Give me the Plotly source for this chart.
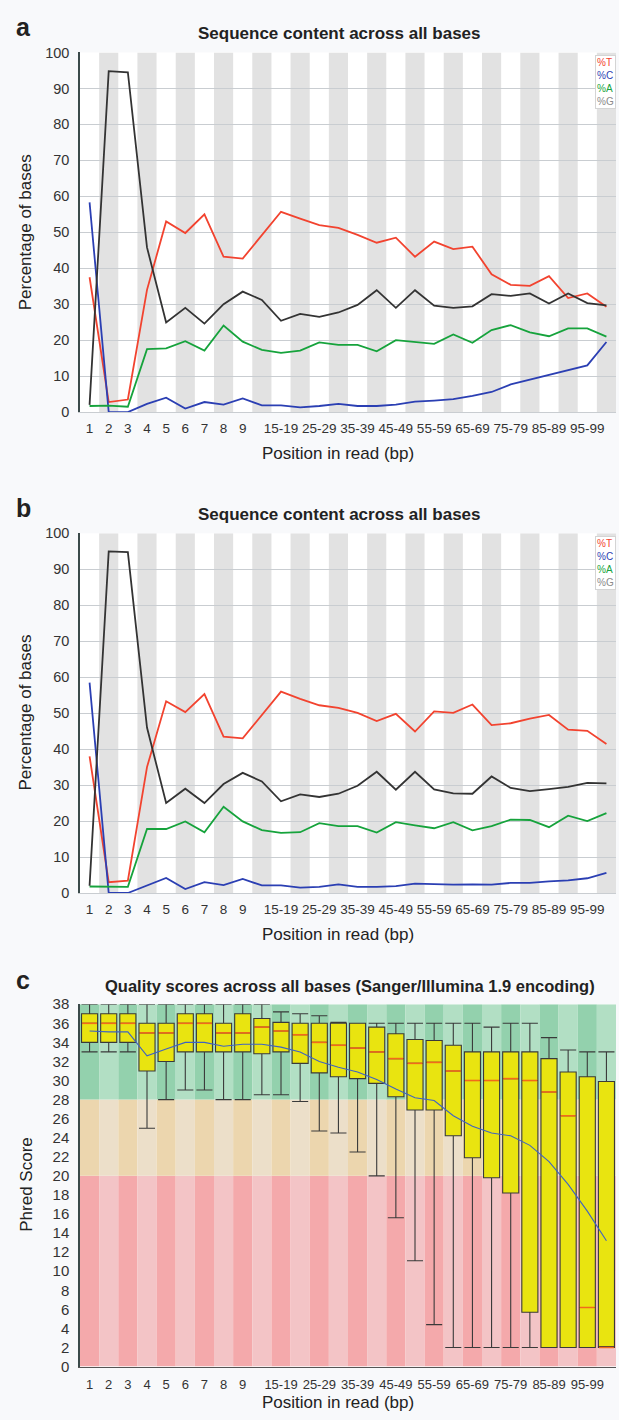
import plotly.graph_objects as go

W, H = 619, 1420

# ---------------- data ----------------
categories = ["1", "2", "3", "4", "5", "6", "7", "8", "9",
              "10-14", "15-19", "20-24", "25-29", "30-34", "35-39", "40-44",
              "45-49", "50-54", "55-59", "60-64", "65-69", "70-74", "75-79",
              "80-84", "85-89", "90-94", "95-99", "100"]
shown_labels = ["1", "2", "3", "4", "5", "6", "7", "8", "9", "15-19", "25-29",
                "35-39", "45-49", "55-59", "65-69", "75-79", "85-89", "95-99"]

# panel a: sequence content
a_T = [37.5, 2.8, 3.5, 34.0, 53.0, 49.8, 55.0, 43.2, 42.7, 49.2, 55.7, 53.8, 52.0, 51.2,
       49.3, 47.1, 48.5, 43.2, 47.4, 45.3, 46.0, 38.3, 35.4, 35.1, 37.8, 31.7, 33.0, 29.3]
a_C = [58.3, 0.0, 0.0, 2.3, 4.0, 1.0, 2.8, 2.1, 3.8, 1.9, 1.9, 1.3, 1.7, 2.3,
       1.7, 1.7, 2.1, 2.9, 3.2, 3.6, 4.5, 5.6, 7.7, 9.0, 10.5, 11.6, 13.0, 19.5]
a_A = [1.7, 1.8, 1.5, 17.5, 17.7, 19.7, 17.1, 24.1, 19.6, 17.3, 16.5, 17.1, 19.4, 18.7,
       18.7, 16.9, 20.0, 19.4, 19.0, 21.6, 19.3, 22.8, 24.2, 22.2, 21.1, 23.3, 23.3, 21.0]
a_G = [2.0, 94.8, 94.5, 45.8, 24.9, 29.0, 24.6, 30.0, 33.5, 31.2, 25.4, 27.3, 26.5, 27.7,
       29.8, 33.9, 29.0, 33.9, 29.6, 29.0, 29.4, 32.8, 32.3, 33.0, 30.2, 33.0, 30.3, 29.7]

# panel b: sequence content
b_T = [38.0, 3.0, 3.4, 35.0, 53.3, 50.3, 55.3, 43.5, 43.0, 49.5, 56.0, 54.0, 52.2, 51.5,
       50.1, 47.8, 49.8, 44.9, 50.5, 50.1, 52.4, 46.7, 47.2, 48.5, 49.5, 45.4, 45.1, 41.4]
b_C = [58.5, 0.0, 0.0, 2.2, 4.2, 1.1, 3.0, 2.2, 3.9, 2.1, 2.1, 1.5, 1.7, 2.4,
       1.7, 1.7, 1.9, 2.6, 2.4, 2.3, 2.4, 2.3, 2.8, 2.8, 3.2, 3.5, 4.1, 5.6]
b_A = [1.8, 1.7, 1.7, 17.8, 17.8, 19.9, 16.9, 24.0, 19.9, 17.5, 16.7, 16.9, 19.4, 18.6,
       18.6, 16.8, 19.7, 18.8, 18.0, 19.7, 17.4, 18.6, 20.4, 20.3, 18.3, 21.5, 20.0, 22.2]
b_G = [2.0, 95.0, 94.8, 46.0, 25.0, 29.0, 25.0, 30.3, 33.4, 31.0, 25.5, 27.4, 26.7, 27.6,
       29.8, 33.7, 28.7, 33.7, 28.8, 27.7, 27.6, 32.4, 29.2, 28.3, 28.9, 29.5, 30.6, 30.5]

# panel c: quality score boxes
q_low = [33, 33, 33, 25, 28, 29, 29, 28, 28, 28.5, 28.5, 27.8, 24.7, 24.5,
         22.5, 20.0, 15.6, 11.1, 4.4, 2, 2, 2, 2, 2, 2, 2, 2, 2]
q_q1 = [34, 34, 34, 31, 32, 33, 33, 33, 33, 32.8, 33.0, 31.8, 30.8, 30.4,
        30.2, 29.7, 28.3, 26.9, 26.9, 24.2, 21.9, 19.8, 18.2, 5.7, 2, 2, 2, 2]
q_med = [36, 36, 36, 35, 35, 36, 36, 35, 35, 35.6, 35.2, 34.8, 34.0, 33.7,
         33.4, 33.0, 32.3, 31.8, 31.9, 31.0, 30.0, 30.0, 30.2, 30.0, 28.8, 26.3, 6.2, 2.0]
q_q3 = [37, 37, 37, 36, 36, 37, 37, 36, 37, 36.5, 36.1, 36.0, 36.0, 36.0,
        36.0, 35.6, 34.9, 34.3, 34.2, 33.7, 33.0, 33.0, 33.0, 33.0, 32.3, 30.9, 30.4, 29.9]
q_high = [38, 38, 38, 38, 38, 38, 38, 38, 38, 38, 37.2, 37.0, 36.8, 36.1,
          36.0, 36.0, 36.0, 36.0, 36.0, 36.0, 36.0, 35.6, 36.0, 36.0, 34.5, 33.2, 33.0, 33.0]
q_mean = [35.2, 35.1, 35.1, 32.6, 33.3, 34.0, 34.0, 33.6, 33.8, 33.8, 33.5, 33.0, 32.0, 31.4,
          30.9, 30.1, 29.1, 28.2, 27.9, 26.3, 25.2, 24.5, 24.2, 23.2, 21.5, 19.1, 16.3, 13.2]

series_names = ["%T", "%C", "%A", "%G"]
series_colors = ["#f2432f", "#2b3fb3", "#16a33c", "#333333"]

# ---------------- layout helpers ----------------
def py(p):
    return 1 - p / H

def px(p):
    return p / W

X0, X1 = 80, 616
xs = list(range(len(categories)))
tickvals = [categories.index(c) for c in shown_labels]
FONT = "Liberation Sans, Arial, sans-serif"
TXT = "#222222"

fig = go.Figure()

panels = [
    ("x", "y", [a_T, a_C, a_A, a_G]),
    ("x2", "y2", [b_T, b_C, b_A, b_G]),
]
shapes = []
for xa, ya, data in panels:
    for name, vals, col in zip(series_names, data, series_colors):
        fig.add_trace(go.Scatter(x=xs, y=vals, mode="lines", name=name, xaxis=xa, yaxis=ya,
                                 line=dict(color=col, width=1.8), showlegend=False,
                                 hoverinfo="skip"))
    for i in xs:
        if i % 2 == 1:
            shapes.append(dict(type="rect", xref=xa, yref=ya, x0=i - 0.5, x1=i + 0.5,
                               y0=0, y1=100, fillcolor="#e2e2e2", line=dict(width=0),
                               layer="below"))

# panel c background zones
zones = [(0, 20, "#f4a9ab", "#f3c4c6"), (20, 28, "#ecd6ae", "#ecdfc9"),
         (28, 38, "#93d1ad", "#b2dfc4")]
for y0, y1, dark, light in zones:
    for i in xs:
        shapes.append(dict(type="rect", xref="x3", yref="y3", x0=i - 0.5, x1=i + 0.5,
                           y0=y0, y1=y1, fillcolor=dark if i % 2 == 0 else light,
                           line=dict(width=0), layer="below"))

BOXW = 0.84
fig.add_trace(go.Box(x=xs, q1=q_q1, median=q_med, q3=q_q3, lowerfence=q_low,
                     upperfence=q_high, xaxis="x3", yaxis="y3", width=BOXW,
                     whiskerwidth=1, fillcolor="#e9e410", boxpoints=False,
                     line=dict(color="#3a3a3a", width=1.1), showlegend=False,
                     hoverinfo="skip"))
mx, my = [], []
for i, m in zip(xs, q_med):
    mx += [i - BOXW / 2 + 0.03, i + BOXW / 2 - 0.03, None]
    my += [m, m, None]
fig.add_trace(go.Scatter(x=mx, y=my, mode="lines", xaxis="x3", yaxis="y3",
                         line=dict(color="#f26a1b", width=1.6), showlegend=False,
                         hoverinfo="skip"))
fig.add_trace(go.Scatter(x=xs, y=q_mean, mode="lines", xaxis="x3", yaxis="y3",
                         line=dict(color="#3f63c2", width=1.1), showlegend=False,
                         hoverinfo="skip"))

xcommon = dict(range=[-0.5, len(categories) - 0.5], tickmode="array", tickvals=tickvals,
               ticktext=shown_labels, showgrid=False, zeroline=False, ticks="",
               ticklabelstandoff=4,
               tickfont=dict(size=13.5, color="#333333", family=FONT),
               domain=[px(X0), px(X1)], fixedrange=True)
ycommon = dict(zeroline=False, showline=True, linecolor="#3b4a4a", linewidth=1.5,
               ticks="", ticklabelstandoff=6, fixedrange=True)

layout = dict(
    width=W, height=H, margin=dict(l=0, r=0, t=0, b=0),
    paper_bgcolor="#f8f9fb", plot_bgcolor="#ffffff", showlegend=False,
    font=dict(family=FONT, color=TXT),
    shapes=shapes,
    xaxis=dict(xcommon, anchor="y", showline=True, linecolor="#c9cdd1", linewidth=1),
    yaxis=dict(ycommon, domain=[py(408), py(44)], range=[0, 100], dtick=10, anchor="x",
               showgrid=True, gridcolor="#c9cdd1", gridwidth=1,
               tickfont=dict(size=14.5, color="#333333", family=FONT)),
    xaxis2=dict(xcommon, anchor="y2", showline=True, linecolor="#c9cdd1", linewidth=1),
    yaxis2=dict(ycommon, domain=[py(894.7), py(530.7)], range=[0, 100], dtick=10,
                anchor="x2", showgrid=True, gridcolor="#c9cdd1", gridwidth=1,
                tickfont=dict(size=14.5, color="#333333", family=FONT)),
    xaxis3=dict(xcommon, anchor="y3", showline=True, linecolor="#555555", linewidth=1.2,
                ticklabelstandoff=6,
                tickfont=dict(size=13, color="#333333", family=FONT)),
    yaxis3=dict(ycommon, domain=[py(1374), py(1007.3)], range=[0, 38], dtick=2,
                anchor="x3", showgrid=False,
                tickfont=dict(size=15, color="#333333", family=FONT)),
)
fig.update_layout(**layout)

def ann(text, x, y, size, bold=False, angle=0, xanchor="center", color=TXT):
    fig.add_annotation(text=f"<b>{text}</b>" if bold else text, xref="paper", yref="paper",
                       x=px(x), y=py(y), xanchor=xanchor, yanchor="middle",
                       showarrow=False, textangle=angle,
                       font=dict(size=size, color=color, family=FONT))

# panel a
ann("a", 14, 18, 25, bold=True, xanchor="left")
ann("Sequence content across all bases", 339, 25, 17, bold=True)
ann("Percentage of bases", 25, 226, 17, angle=-90)
ann("Position in read (bp)", 338, 450, 17)
# panel b
ann("b", 14, 505, 25, bold=True, xanchor="left")
ann("Sequence content across all bases", 339, 512, 17, bold=True)
ann("Percentage of bases", 25, 712, 17, angle=-90)
ann("Position in read (bp)", 338, 937, 17)
# panel c
ann("c", 14, 983, 25, bold=True, xanchor="left")
ann("Quality scores across all bases (Sanger/Illumina 1.9 encoding)", 350, 989, 16.5, bold=True)
ann("Phred Score", 27, 1190, 17, angle=-90)
ann("Position in read (bp)", 338, 1410, 17)

# legends (panels a and b)
legend_text = "<br>".join(f"<span style='color:{c}'>{n}</span>"
                          for n, c in zip(series_names[:3], series_colors[:3]))
legend_text += "<br><span style='color:#8a8a8a'>%G</span>"
for ycen in (74, 561):
    fig.add_annotation(text=legend_text, xref="paper", yref="paper", x=px(616), y=py(ycen),
                       xanchor="right", yanchor="middle", showarrow=False, align="left",
                       font=dict(size=10, family=FONT), bgcolor="#ffffff",
                       bordercolor="#d4d4d4", borderwidth=1, borderpad=1)

fig.write_html("out.html", config={"displayModeBar": False},
               post_script="document.body.style.margin='0';"
                           "document.body.style.overflow='hidden';")
